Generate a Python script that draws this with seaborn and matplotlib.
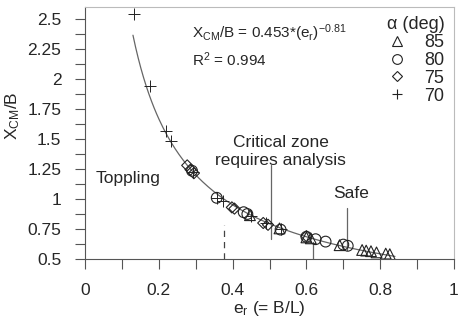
import numpy as np
import pandas as pd
import matplotlib
matplotlib.use("Agg")
import matplotlib.pyplot as plt
from matplotlib.lines import Line2D
from matplotlib.ticker import MultipleLocator, FuncFormatter
import seaborn as sns

# ---- data ----
x85 = [0.447, 0.527, 0.600, 0.612, 0.690, 0.751, 0.762, 0.775, 0.790, 0.815, 0.826]
y85 = [0.865, 0.755, 0.680, 0.672, 0.615, 0.575, 0.570, 0.565, 0.555, 0.545, 0.540]
x80 = [0.290, 0.357, 0.430, 0.440, 0.530, 0.600, 0.625, 0.652, 0.700, 0.712]
y80 = [1.235, 1.010, 0.890, 0.875, 0.745, 0.685, 0.665, 0.645, 0.620, 0.610]
x75 = [0.277, 0.286, 0.295, 0.398, 0.405, 0.483, 0.496, 0.600]
y75 = [1.280, 1.245, 1.215, 0.930, 0.920, 0.800, 0.785, 0.690]
x70 = [0.132, 0.176, 0.219, 0.232, 0.292, 0.357, 0.375, 0.450, 0.490, 0.530]
y70 = [2.545, 1.940, 1.565, 1.480, 1.225, 1.010, 0.985, 0.860, 0.800, 0.750]

fit_a, fit_b = 0.453, -0.81
fit_xmin, fit_xmax = 0.13, 0.84

xticks = [0, 0.2, 0.4, 0.6, 0.8, 1]
yticks = [0.5, 0.75, 1, 1.25, 1.5, 1.75, 2, 2.25, 2.5]

vlines_solid = [(0.505, 0.667, 1.28), (0.709, 0.575, 0.925), (0.618, 0.5, 0.645)]
vline_dash = (0.378, 0.5, 0.78)

# ---- style ----
sns.set_style("ticks")
plt.rcParams["font.family"] = ["Liberation Sans", "DejaVu Sans"]
plt.rcParams["mathtext.fontset"] = "custom"
plt.rcParams["mathtext.rm"] = "Liberation Sans"
plt.rcParams["mathtext.it"] = "Liberation Sans:italic"

fig = plt.figure(figsize=(4.6, 3.24), dpi=100)
ax = fig.add_axes([85/460, 1-259/324, (454-85)/460, (259-7)/324])

ink = "#222222"
groups = [
    (x85, y85, "^", 60, "85"),
    (x80, y80, "o", 60, "80"),
    (x75, y75, "D", 32, "75"),
    (x70, y70, "+", 80, "70"),
]

# fitted curve
xf = np.linspace(fit_xmin, fit_xmax, 200)
yf = fit_a * xf ** fit_b
sns.lineplot(x=xf, y=yf, ax=ax, color="#666666", lw=0.9, zorder=1)

for xs, ys, m, s, lab in groups:
    df = pd.DataFrame({"x": xs, "y": ys})
    if m == "+":
        sns.scatterplot(data=df, x="x", y="y", ax=ax, marker=m, s=s,
                        color=ink, linewidth=0.7, zorder=3)
    else:
        sns.scatterplot(data=df, x="x", y="y", ax=ax, marker=m, s=s,
                        facecolor="none", edgecolor=ink, linewidth=0.8, zorder=3)

for xv, y0, y1 in vlines_solid:
    ax.plot([xv, xv], [y0, y1], color="#666666", lw=0.9, zorder=2)
ax.plot([vline_dash[0]]*2, [vline_dash[1], vline_dash[2]], color="#444444",
        lw=0.9, ls=(0, (5, 4)), zorder=2)

ax.set_xlim(0, 1)
ax.set_ylim(0.5, 2.6)
ax.xaxis.set_major_locator(MultipleLocator(0.2))
ax.xaxis.set_minor_locator(MultipleLocator(0.1))
ax.yaxis.set_major_locator(MultipleLocator(0.25))
ax.yaxis.set_minor_locator(MultipleLocator(0.125))
fmt = FuncFormatter(lambda v, p: f"{v:g}")
ax.xaxis.set_major_formatter(fmt)
ax.yaxis.set_major_formatter(fmt)
ax.set_xticks(xticks)
ax.set_yticks(yticks)
ax.tick_params(which="both", direction="out", length=7, width=0.8, color="#555555",
               labelsize=12.5, pad=10)
for side in ["left", "bottom"]:
    ax.spines[side].set_color("#555555")
    ax.spines[side].set_linewidth(0.8)
for side in ["top", "right"]:
    ax.spines[side].set_visible(True)
    ax.spines[side].set_color("#bbbbbb")
    ax.spines[side].set_linewidth(0.8)

ax.set_xlabel(r"e$_{\mathregular{r}}$ (= B/L)", fontsize=12.5, labelpad=1)
ax.set_ylabel(r"X$_{\mathregular{CM}}$/B", fontsize=12.5, labelpad=4)
ax.yaxis.set_label_coords(-0.17, 0.57)

ax.text(0.29, 2.38, r"X$_{\mathregular{CM}}$/B = 0.453*(e$_{\mathregular{r}}$)$^{\mathregular{-0.81}}$",
        fontsize=11, va="center", ha="left")
ax.text(0.29, 2.16, r"R$^{\mathregular{2}}$ = 0.994", fontsize=11, va="center", ha="left")
ax.text(0.03, 1.175, "Toppling", fontsize=12.5, va="center", ha="left")
ax.text(0.53, 1.395, "Critical zone\nrequires analysis", fontsize=12.5, va="center",
        ha="center", linespacing=1.3)
ax.text(0.72, 1.05, "Safe", fontsize=12.5, va="center", ha="center")

handles = [Line2D([], [], ls="none", marker=m, markersize=(7 if m != "D" else 5),
                  markerfacecolor="none", markeredgecolor=ink, color=ink,
                  markeredgewidth=0.8) for _, _, m, _, _ in groups]
labels = [g[4] for g in groups]
leg = ax.legend(handles, labels, title="α (deg)", loc="upper right",
                bbox_to_anchor=(1.0, 1.0), frameon=False, fontsize=13,
                title_fontsize=13, labelspacing=0.05, handletextpad=1.0,
                handlelength=1.0, borderaxespad=0.1)

fig.savefig("out.png", dpi=100)
